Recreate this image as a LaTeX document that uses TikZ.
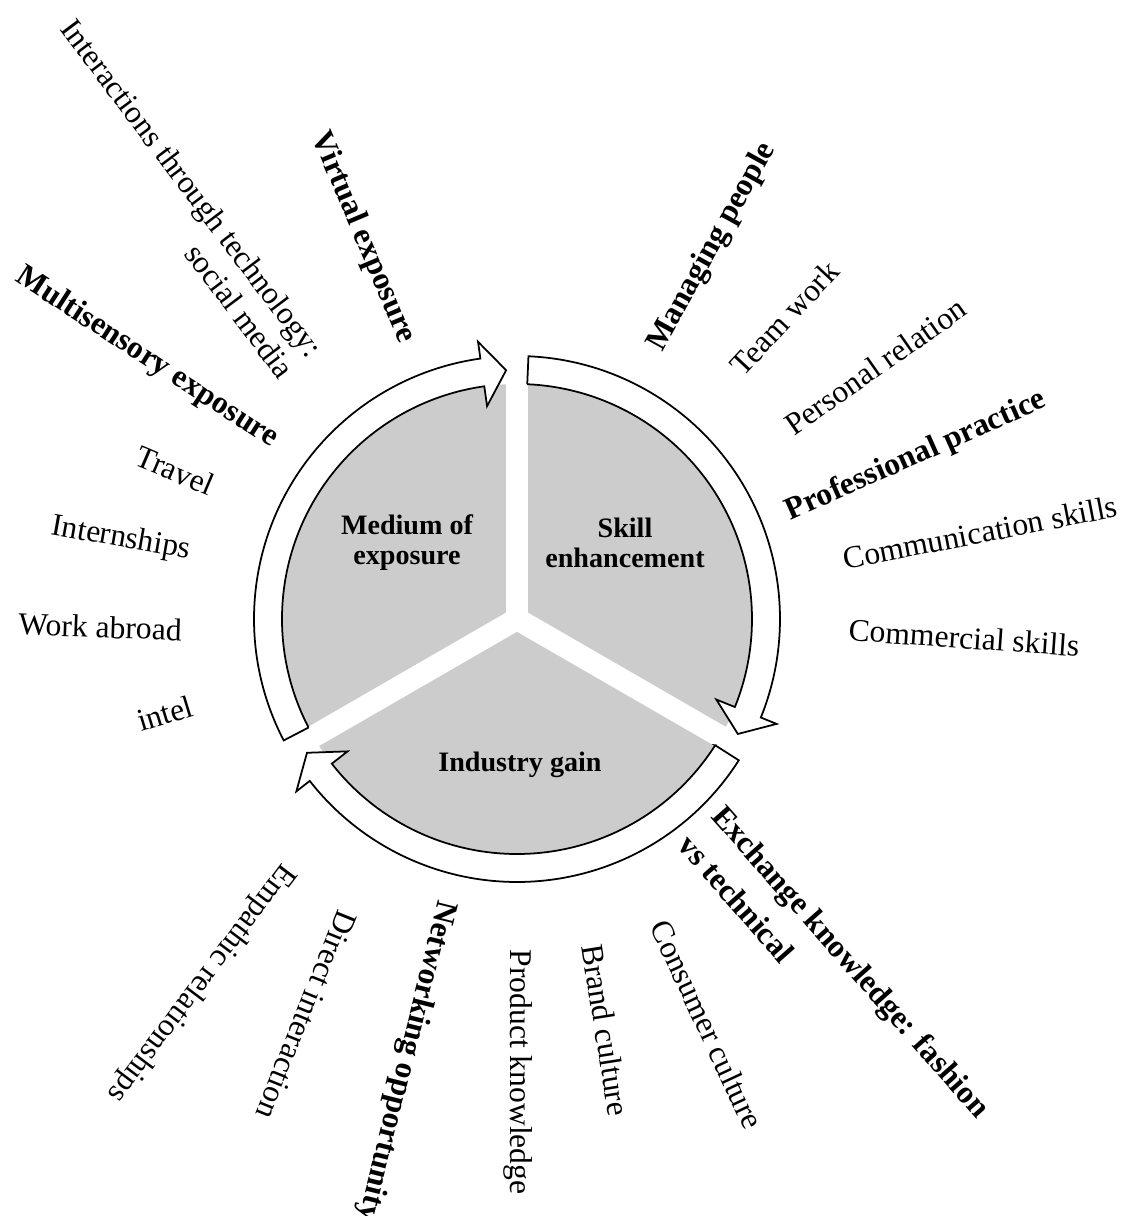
\documentclass[tikz,border=0pt]{standalone}
\usepackage{fontspec}
\setmainfont{Liberation Serif}
\usepackage{xcolor}
\definecolor{sectorfill}{HTML}{CCCCCC}
\usepackage{tikz}
\usetikzlibrary{positioning}

\begin{document}
\begin{tikzpicture}[
  sector/.style={align=center,font=\fontsize{16}{17}\selectfont\bfseries},
  leaf/.style={align=left,inner sep=0pt,font=\fontsize{18}{20.5}\selectfont},
  theme/.style={leaf,font=\fontsize{18}{20.5}\selectfont\bfseries},
  ring/.style={draw=black,fill=white,line width=1pt,line join=miter},
  gap/.style={draw=white,line width=4.4mm}
]
\useasboundingbox (-10.34,-11.94) rectangle (12.22,12.38);

% grey disc cut in three
\fill[sectorfill] (0,0) circle[radius=4.7];
\draw[gap] (0,0) -- (90:4.8);
\draw[gap] (0,0) -- (210:4.8);
\draw[gap] (0,0) -- (330:4.8);

% curved arrows round the disc
\draw[ring] (207.5:4.7) -- (207.5:5.26) arc[start angle=207.5,end angle=98,radius=5.26]
  -- (98:5.6) -- (92.5:4.98) -- (98:4.3) -- (98:4.7)
  arc[start angle=98,end angle=207.5,radius=4.7] -- cycle;
\draw[ring] (87.5:4.7) -- (87.5:5.26) arc[start angle=87.5,end angle=-22,radius=5.26]
  -- (-22:5.6) -- (-27.5:4.98) -- (-22:4.3) -- (-22:4.7)
  arc[start angle=-22,end angle=87.5,radius=4.7] -- cycle;
\draw[ring] (-32.5:4.7) -- (-32.5:5.26) arc[start angle=-32.5,end angle=-142,radius=5.26]
  -- (-142:5.6) -- (-147.5:4.98) -- (-142:4.3) -- (-142:4.7)
  arc[start angle=-142,end angle=-32.5,radius=4.7] -- cycle;

\node[sector] (medium) at (-2.2,1.52) {Medium of\\exposure};
\node[sector] (skill) at (2.16,1.52) {Skill\\enhancement};
\node[sector] (industry) at (0.06,-2.92) {Industry gain};

% medium of exposure
\node[theme,rotate=-67] (virtual) at (112:8.22) {Virtual exposure};
\node[leaf,align=right,rotate=-53] (online) at (128.9:10.8) {Interactions through technology:\\social media};
\node[theme,rotate=-33] (multisense) at (144.8:9.06) {Multisensory exposure};
\node[leaf,rotate=-23] (travel) at (156.5:7.46) {Travel};
\node[leaf,rotate=-10] (intern) at (168.6:8.08) {Internships};
\node[leaf,rotate=-2] (abroad) at (181.1:8.34) {Work abroad};
\node[leaf,rotate=17] (intel) at (195:7.29) {intel};

% skill enhancement
\node[theme,rotate=61] (manage) at (62.3:8.4) {Managing people};
\node[leaf,rotate=47] (team) at (48.4:8.05) {Team work};
\node[leaf,rotate=35] (personal) at (35.2:8.77) {Personal relation};
\node[theme,rotate=24] (practice) at (22.2:8.62) {Professional practice};
\node[leaf,rotate=11] (communic) at (10.6:9.42) {Communication skills};
\node[leaf,rotate=-4] (commerce) at (-2.4:8.95) {Commercial skills};

% industry gain
\node[theme,rotate=-48.6] (exchange) at (-48.3:9.56) {Exchange knowledge: fashion\\[5pt]vs technical};
\node[leaf,rotate=-65] (consumer) at (-64.9:8.96) {Consumer culture};
\node[leaf,rotate=-81] (brand) at (-77.8:8.41) {Brand culture};
\node[leaf,rotate=-90] (product) at (-89.9:9.06) {Product knowledge};
\node[theme,rotate=-104] (network) at (-104.1:9.11) {Networking opportunity};
\node[leaf,rotate=-112] (direct) at (-118:8.97) {Direct interaction};
\node[leaf,rotate=-127] (empathy) at (-131:9.64) {Empathic relationships};
\end{tikzpicture}
\end{document}
